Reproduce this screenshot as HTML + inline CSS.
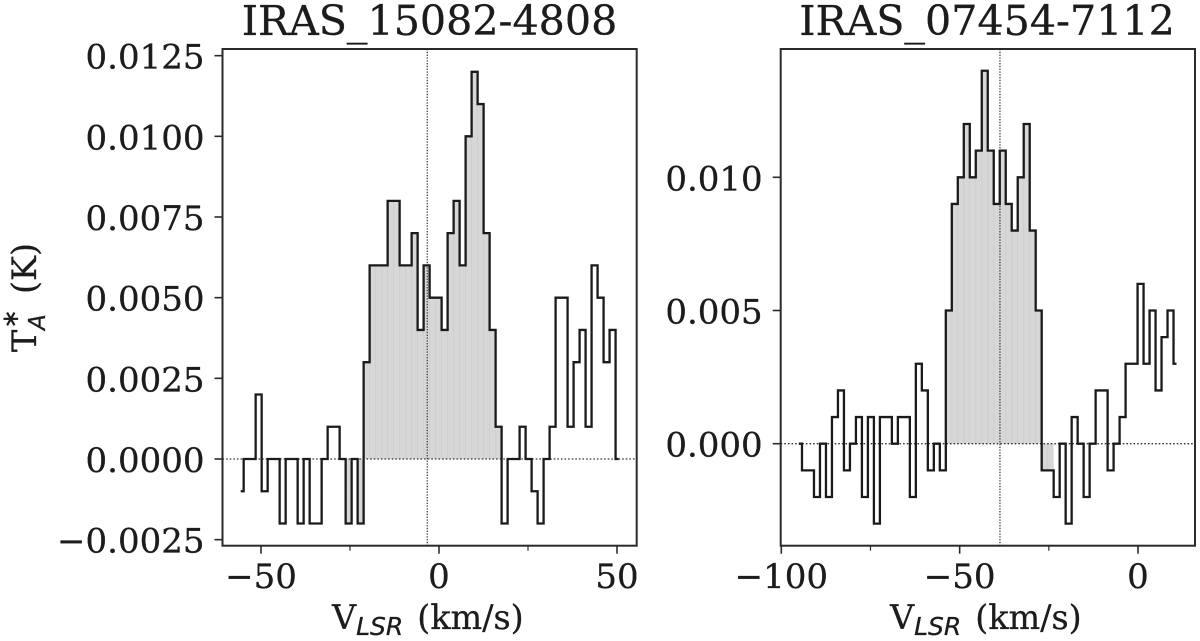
<!DOCTYPE html>
<html>
<head>
<meta charset="utf-8">
<title>Spectra</title>
<style>
html,body{margin:0;padding:0;background:#fff;}
svg{display:block;}
text{font-family:"DejaVu Serif","Liberation Serif",serif;fill:#1c1c1c;stroke:#1c1c1c;stroke-width:0.3;}
.s{font-family:"DejaVu Sans","Liberation Sans",sans-serif;font-style:italic;}
.st{font-family:"DejaVu Sans","Liberation Sans",sans-serif;}
</style>
</head>
<body>
<svg id="fig" xmlns="http://www.w3.org/2000/svg" width="1200" height="641" viewBox="0 0 1200 641">
  <rect width="1200" height="641" fill="#fff"/>
  <text x="429.5" y="35" font-size="41.2" text-anchor="middle">IRAS_15082-4808</text>
  <text x="987" y="35" font-size="41.2" text-anchor="middle">IRAS_07454-7112</text>
  <g transform="translate(36,352) rotate(-90)">
    <text x="0" y="0" font-size="33.4">T</text>
    <text class="st" x="23.5" y="-18" font-size="23">∗</text>
    <text class="s" x="22" y="9" font-size="23">A</text>
    <text x="58" y="0" font-size="33.4">(K)</text>
  </g>
  <text x="332" y="629" font-size="33.4">V<tspan class="s" font-size="25" dy="6">LSR</tspan><tspan dx="14" dy="-6">(km/s)</tspan></text>
  <text x="890" y="629" font-size="33.4">V<tspan class="s" font-size="25" dy="6">LSR</tspan><tspan dx="14" dy="-6">(km/s)</tspan></text>
</svg>
<script>
var leftVelocity = [-55.71,-54.03,-52.34,-50.66,-48.97,-47.29,-45.60,-43.92,-42.23,-40.55,-38.86,-37.18,-35.49,-33.81,-32.12,-30.44,-28.75,-27.07,-25.38,-23.70,-22.01,-20.33,-18.64,-16.96,-15.27,-13.59,-11.90,-10.22,-8.53,-6.85,-5.16,-3.48,-1.79,-0.11,1.58,3.26,4.95,6.63,8.32,10.00,11.69,13.37,15.06,16.74,18.43,20.11,21.80,23.48,25.17,26.85,28.54,30.22,31.91,33.59,35.28,36.96,38.65,40.33,42.02,43.70,45.39,47.07,48.76,50.44];
var leftTemp = [-0.001,0,0,0.002,-0.001,0,0,-0.002,0,0,-0.002,0,-0.002,-0.002,0,0.001,0.001,0,-0.002,0,-0.002,0.003,0.006,0.006,0.006,0.008,0.008,0.006,0.006,0.007,0.004,0.006,0.005,0.005,0.004,0.007,0.008,0.006,0.010,0.012,0.011,0.007,0.004,0.001,-0.002,0,0,0.001,0,-0.001,-0.002,0,0.001,0.005,0.005,0.001,0.003,0.004,0.001,0.006,0.005,0.003,0.004,0];
var leftShadeRange = [-26, 17];
var leftVline = [-3.3];
var leftXTicks = [-50, 0, 50];
var leftXMinorTicks = [-25, 25];
var leftXTickLabels = ["\u221250", "0", "50"];
var leftYTicks = [0.0125, 0.01, 0.0075, 0.005, 0.0025, 0, -0.0025];
var leftYTickLabels = ["0.0125", "0.0100", "0.0075", "0.0050", "0.0025", "0.0000", "\u22120.0025"];

var rightVelocity = [-95.04,-93.36,-91.68,-90.00,-88.32,-86.64,-84.96,-83.28,-81.60,-79.92,-78.24,-76.56,-74.88,-73.20,-71.52,-69.84,-68.16,-66.48,-64.80,-63.12,-61.44,-59.76,-58.08,-56.40,-54.72,-53.04,-51.36,-49.68,-48.00,-46.32,-44.64,-42.96,-41.28,-39.60,-37.92,-36.24,-34.56,-32.88,-31.20,-29.52,-27.84,-26.16,-24.48,-22.80,-21.12,-19.44,-17.76,-16.08,-14.40,-12.72,-11.04,-9.36,-7.68,-6.00,-4.32,-2.64,-0.96,0.72,2.40,4.08,5.76,7.44,9.12,10.80];
var rightTemp = [0,-0.001,-0.001,-0.002,0,-0.002,0.001,0.002,-0.001,0,0.001,-0.002,0.001,-0.003,0.001,0.001,0,0.001,0.001,-0.002,0.003,0.002,-0.001,0,-0.001,0.005,0.009,0.010,0.012,0.010,0.011,0.014,0.011,0.009,0.011,0.009,0.008,0.010,0.012,0.008,0.005,-0.001,-0.001,-0.002,0,-0.003,0.001,0,-0.002,0,0.002,0.002,-0.001,0,0.001,0.003,0.003,0.006,0.003,0.005,0.002,0.004,0.005,0.003];
var rightShadeRange = [-53.5, -24];
var rightVline = [-38.7];
var rightXTicks = [-100, -50, 0];
var rightXMinorTicks = [-75, -25];
var rightXTickLabels = ["\u2212100", "\u221250", "0"];
var rightYTicks = [0.01, 0.005, 0];
var rightYTickLabels = ["0.010", "0.005", "0.000"];

var NS = "http://www.w3.org/2000/svg";
var fig = document.getElementById("fig");
function mk(tag, attrs, parent) {
  var el = document.createElementNS(NS, tag);
  for (var k in attrs) { el.setAttribute(k, attrs[k]); }
  parent.appendChild(el);
  return el;
}
function drawPanel(box, xScale, yScale, velocity, temp, shadeRange, vline, xTicks, xMinor, xLabels, yTicks, yLabels) {
  var g = mk("g", {}, fig);
  
  
  var y0 = yScale(0);
  var half = (velocity[1] - velocity[0]) / 2;
  for (var i = 0; i < velocity.length; i++) {
    if (velocity[i] < shadeRange[0] || velocity[i] > shadeRange[1]) { continue; }
    var xa = xScale(velocity[i] - half);
    var xb = xScale(velocity[i] + half);
    var yv = yScale(temp[i]);
    var bin = mk("rect", {x: xa, y: Math.min(yv, y0), width: xb - xa, height: Math.abs(yv - y0), fill: "#d7d7d7"}, g);
    
    
    var stripe = mk("line", {x1: xa, x2: xa, y1: yv, y2: y0, stroke: "#cfcfcf", "stroke-width": 1}, g);
    
    
  }
  var zero = mk("line", {x1: box.l, x2: box.r, y1: y0, y2: y0, stroke: "#333", "stroke-width": 1.3, "stroke-dasharray": "1.6 2"}, g);
  
  
  var vx = xScale(vline[0]);
  var vl = mk("line", {x1: vx, x2: vx, y1: box.t, y2: box.b, stroke: "#444", "stroke-width": 1.3, "stroke-dasharray": "1.4 1.4"}, g);
  
  
  var d = "M" + xScale(velocity[0]) + " " + yScale(temp[0]);
  for (var j = 1; j < velocity.length; j++) {
    var mid = xScale((velocity[j - 1] + velocity[j]) / 2);
    d += "L" + mid + " " + yScale(temp[j - 1]) + "L" + mid + " " + yScale(temp[j]);
  }
  d += "L" + xScale(velocity[velocity.length - 1]) + " " + yScale(temp[temp.length - 1]);
  var line = mk("path", {d: d, fill: "none", stroke: "#1a1a1a", "stroke-width": 2.3, "stroke-linejoin": "miter"}, g);
  
  
  var frame = mk("rect", {x: box.l, y: box.t, width: box.r - box.l, height: box.b - box.t, fill: "none", stroke: "#2a2a2a", "stroke-width": 2}, g);
  
  
  xTicks.forEach(function (v, n) {
    var px = xScale(v);
    var t = mk("line", {x1: px, x2: px, y1: box.b, y2: box.b + 8, stroke: "#2a2a2a", "stroke-width": 1.6}, g);
    
    
    var lab = mk("text", {x: px, y: 588, "font-size": 34, "text-anchor": "middle"}, g);
    
    
    lab.textContent = xLabels[n];
  });
  xMinor.forEach(function (v) {
    var px = xScale(v);
    var t = mk("line", {x1: px, x2: px, y1: box.b, y2: box.b + 5, stroke: "#2a2a2a", "stroke-width": 1.2}, g);
    
    
  });
  yTicks.forEach(function (v, n) {
    var py = yScale(v);
    var t = mk("line", {x1: box.l - 8, x2: box.l, y1: py, y2: py, stroke: "#2a2a2a", "stroke-width": 1.6}, g);
    
    
    var lab = mk("text", {x: box.l - 18, y: py + 13, "font-size": 34, "text-anchor": "end"}, g);
    
    
    lab.textContent = yLabels[n];
  });
}
function leftX(v) { return 439 + 3.56 * v; }
function leftY(t) { return 459 - 32267 * t; }
function rightX(v) { return 1138 + 3.567 * v; }
function rightY(t) { return 443.7 - 26640 * t; }
drawPanel({l: 222.5, r: 636.7, t: 49, b: 545.7}, leftX, leftY, leftVelocity, leftTemp, leftShadeRange, leftVline, leftXTicks, leftXMinorTicks, leftXTickLabels, leftYTicks, leftYTickLabels);
drawPanel({l: 780.7, r: 1195, t: 49, b: 545.7}, rightX, rightY, rightVelocity, rightTemp, rightShadeRange, rightVline, rightXTicks, rightXMinorTicks, rightXTickLabels, rightYTicks, rightYTickLabels);
</script>
</body>
</html>
